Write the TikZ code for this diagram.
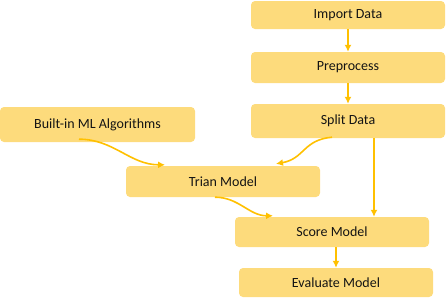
\documentclass[tikz,border=0pt]{standalone}
\usepackage{fontspec}
\setmainfont{Carlito}
\usepackage{xcolor}
\usetikzlibrary{arrows.meta}
\definecolor{boxfill}{HTML}{FDDB7C}
\definecolor{flow}{HTML}{FFC000}
\definecolor{ink}{HTML}{141414}

\begin{document}
\begin{tikzpicture}[
  x=1pt, y=-1pt,
  font=\fontsize{14}{16}\selectfont,
  bx/.style ={fill=boxfill, text=ink, rounded corners=4pt, minimum width=194pt,
              minimum height=30pt, inner sep=2pt, align=center},
  ar/.style ={-{Latex[length=7pt,width=7pt]}, flow, line width=1.6pt}
]
\useasboundingbox (0,0) rectangle (448,300);

% =============== pipeline ===============
\node[bx, minimum height=28pt] (imp) at (348,15)    {Import Data};
\node[bx, minimum height=31pt] (pre) at (348,67.5)  {Preprocess};
\node[bx, minimum height=34pt] (spl) at (348,121)   {Split Data};
\node[bx, minimum width=195pt, minimum height=35pt] (alg) at (97.5,124.5) {Built-in ML Algorithms};
\node[bx, minimum height=31pt] (trn) at (223,181.5) {Trian Model};
\node[bx] (scr) at (332,232)   {Score Model};
\node[bx, minimum height=29pt] (evl) at (336,282.5) {Evaluate Model};

\draw[ar] (imp) -- (pre);
\draw[ar] (pre) -- (spl);
\draw[ar] ([xshift=26pt]spl.south) -- ([xshift=42pt]scr.north);
\draw[ar] ([xshift=4pt]scr.south) -- (evl.north);

% curved feeds into the training and scoring steps
\draw[ar] ([xshift=-16pt,yshift=1pt]spl.south) to[out=185, in=10, looseness=1.2]
  ([xshift=53pt,yshift=2pt]trn.north);
\draw[ar] ([xshift=-18.5pt,yshift=3pt]alg.south) to[out=0, in=180, looseness=1]
  ([xshift=-58pt,yshift=1pt]trn.north);
\draw[ar] ([xshift=-8pt]trn.south) to[out=0, in=180, looseness=1]
  ([xshift=-59pt,yshift=1pt]scr.north);
\end{tikzpicture}
\end{document}
